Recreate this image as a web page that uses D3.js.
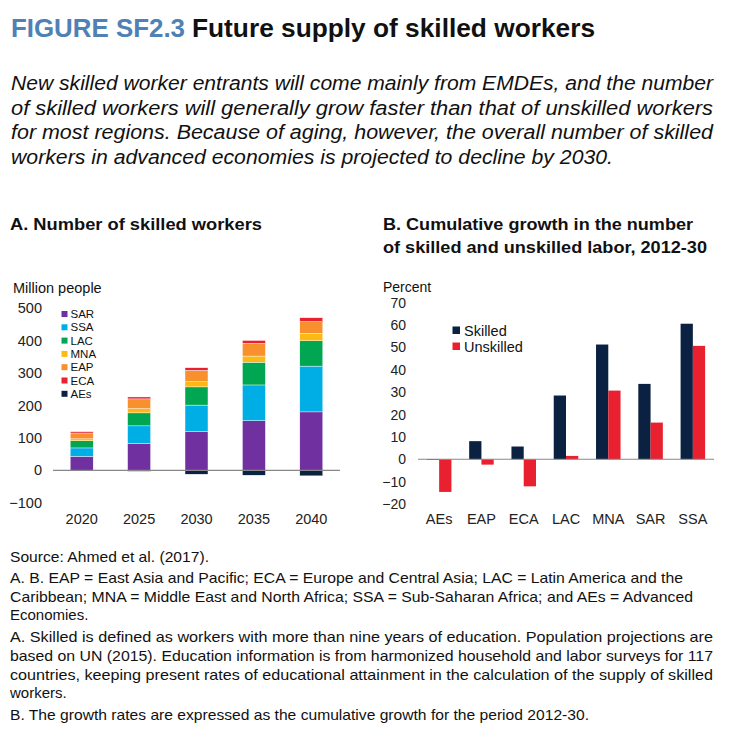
<!DOCTYPE html>
<html>
<head>
<meta charset="utf-8">
<script src="https://cdn.jsdelivr.net/npm/d3@7"></script>
<style>
  body { margin: 0; background: #fff; }
  text { font-family: "Liberation Sans", Arial, sans-serif; fill: #111; }
</style>
</head>
<body>
<div id="chart"></div>
<script>
// Panel A data: skilled workers, million people
var years = ["2020", "2025", "2030", "2035", "2040"];
var regionsA = ["SAR", "SSA", "LAC", "MNA", "EAP", "ECA", "AEs"];
var sar = [43, 83, 120, 153, 180];
var ssa = [26, 54, 81, 110, 141];
var lac = [22, 40, 56, 70, 78];
var mna = [6, 13, 16, 19, 23];
var eap = [18, 30, 35, 39, 36];
var eca = [4, 6, 8, 9, 12];
var aes = [-1, -3, -12, -15, -17];
var ticksA = [-100, 0, 100, 200, 300, 400, 500];

// Panel B data: cumulative growth 2012-30, percent
var categoriesB = ["AEs", "EAP", "ECA", "LAC", "MNA", "SAR", "SSA"];
var seriesB = ["Skilled", "Unskilled"];
var skilled = [-0.3, 8.1, 5.7, 28.5, 51.3, 33.7, 60.6];
var unskilled = [-14.6, -2.4, -12.1, 1.5, 30.7, 16.4, 50.7];
var ticksB = [-20, -10, 0, 10, 20, 30, 40, 50, 60, 70];

var colorsA = {
  SAR: "#7030a0", SSA: "#00aee6", LAC: "#00a651", MNA: "#fdb913",
  EAP: "#f7902d", ECA: "#e8202f", AEs: "#0b2142"
};
var colorsB = { Skilled: "#0b2142", Unskilled: "#e8202f" };

var svg = d3.select("#chart").append("svg")
  .attr("width", 750)
  .attr("height", 731);

// helper: place a line of text, squeezed to a width when one is given
function line(x, y, str, size, width, opts) {
  opts = opts || {};
  var t = svg.append("text")
    .attr("x", x).attr("y", y)
    .style("font-size", size + "px")
    .style("font-weight", opts.bold ? "bold" : "normal")
    .style("font-style", opts.italic ? "italic" : "normal")
    .text(str);
  if (opts.fill) t.style("fill", opts.fill);
  if (width) t.attr("textLength", width).attr("lengthAdjust", "spacingAndGlyphs");
  return t;
}

// title + lead text
line(11, 37, "FIGURE SF2.3", 26, 174, { bold: true, fill: "#4f81b5" });
line(192, 37, "Future supply of skilled workers", 26, 403, { bold: true });

line(11, 90, "New skilled worker entrants will come mainly from EMDEs, and the number", 19.5, 702, { italic: true });
line(11, 114.5, "of skilled workers will generally grow faster than that of unskilled workers", 19.5, 702, { italic: true });
line(11, 139, "for most regions. Because of aging, however, the overall number of skilled", 19.5, 702, { italic: true });
line(11, 163.5, "workers in advanced economies is projected to decline by 2030.", 19.5, 602, { italic: true });

line(10, 230, "A. Number of skilled workers", 16.5, 252, { bold: true });
line(383, 230, "B. Cumulative growth in the number", 16.5, 310, { bold: true });
line(383, 253, "of skilled and unskilled labor, 2012-30", 16.5, 324, { bold: true });

// footnotes
line(10, 562, "Source: Ahmed et al. (2017).", 15, 199);
line(10, 583, "A. B. EAP = East Asia and Pacific; ECA = Europe and Central Asia; LAC = Latin America and the", 15, 673);
line(10, 602, "Caribbean; MNA = Middle East and North Africa; SSA = Sub-Saharan Africa; and AEs = Advanced", 15, 683);
line(10, 620, "Economies.", 15);
line(10, 642, "A. Skilled is defined as workers with more than nine years of education. Population projections are", 15, 703);
line(10, 661, "based on UN (2015). Education information is from harmonized household and labor surveys for 117", 15, 703);
line(10, 680, "countries, keeping present rates of educational attainment in the calculation of the supply of skilled", 15, 703);
line(10, 698, "workers.", 15);
line(10, 720, "B. The growth rates are expressed as the cumulative growth for the period 2012-30.", 15, 579);

// ---------- Panel A: stacked bars ----------
var rowsA = years.map(function(y, i) {
  return { year: y, SAR: sar[i], SSA: ssa[i], LAC: lac[i], MNA: mna[i], EAP: eap[i], ECA: eca[i], AEs: aes[i] };
});

var xA = d3.scaleBand().domain(years).range([53, 340]).paddingInner(0.6).paddingOuter(0.3);
var yA = d3.scaleLinear().domain([-100, 500]).range([502.8, 308]);

var stack = d3.stack().keys(regionsA).offset(d3.stackOffsetDiverging);
var layers = stack(rowsA);

svg.append("g")
  .attr("transform", "translate(45,0)")
  .call(d3.axisLeft(yA).tickValues(ticksA).tickSize(0).tickPadding(3))
  .call(function(g) { g.select(".domain").remove(); })
  .selectAll("text").style("font-size", "14.5px").style("fill", "#222");

svg.append("text").attr("x", 13).attr("y", 293).style("font-size", "14.5px").text("Million people");

svg.append("g").selectAll("g")
  .data(layers)
  .enter().append("g")
  .attr("fill", function(d) { return colorsA[d.key]; })
  .selectAll("rect")
  .data(function(d) { return d; })
  .enter().append("rect")
  .attr("x", function(d) { return xA(d.data.year); })
  .attr("y", function(d) { return yA(Math.max(d[0], d[1])); })
  .attr("height", function(d) { return Math.abs(yA(d[0]) - yA(d[1])); })
  .attr("width", xA.bandwidth())
  .attr("stroke", "#fff")
  .attr("stroke-width", 0.4);

svg.append("line")
  .attr("x1", 53).attr("x2", 340)
  .attr("y1", yA(0)).attr("y2", yA(0))
  .attr("stroke", "#888").attr("stroke-width", 1.2);

svg.append("g")
  .attr("transform", "translate(0,511)")
  .call(d3.axisBottom(xA).tickSize(0).tickPadding(3))
  .call(function(g) { g.select(".domain").remove(); })
  .selectAll("text").style("font-size", "14.5px").style("fill", "#222");

// legend A
var legA = svg.append("g").selectAll("g")
  .data(regionsA)
  .enter().append("g")
  .attr("transform", function(d, i) { return "translate(61.5," + (314 + i * 13.3) + ")"; });
legA.append("rect").attr("x", 0).attr("y", -3).attr("width", 6).attr("height", 6)
  .attr("fill", function(d) { return colorsA[d]; });
legA.append("text").attr("x", 9).attr("dy", "0.36em").style("font-size", "11.5px").text(function(d) { return d; });

// ---------- Panel B: grouped bars ----------
var xB = d3.scaleBand().domain(categoriesB).range([418, 714]).paddingInner(0.42).paddingOuter(0.21);
var xB1 = d3.scaleBand().domain(seriesB).range([0, xB.bandwidth()]);
var yB = d3.scaleLinear().domain([-20, 70]).range([504, 302.7]);

svg.append("g")
  .attr("transform", "translate(409,0)")
  .call(d3.axisLeft(yB).tickValues(ticksB).tickSize(0).tickPadding(3))
  .call(function(g) { g.select(".domain").remove(); })
  .selectAll("text").style("font-size", "14px").style("fill", "#222");

svg.append("text").attr("x", 383).attr("y", 292).style("font-size", "14px").text("Percent");

var rowsB = categoriesB.map(function(c, i) {
  return { cat: c, Skilled: skilled[i], Unskilled: unskilled[i] };
});

svg.append("g").selectAll("g")
  .data(rowsB)
  .enter().append("g")
  .attr("transform", function(d) { return "translate(" + xB(d.cat) + ",0)"; })
  .selectAll("rect")
  .data(function(d) { return seriesB.map(function(k) { return { key: k, value: d[k] }; }); })
  .enter().append("rect")
  .attr("x", function(d) { return xB1(d.key); })
  .attr("y", function(d) { return yB(Math.max(0, d.value)); })
  .attr("height", function(d) { return Math.abs(yB(d.value) - yB(0)); })
  .attr("width", xB1.bandwidth())
  .attr("fill", function(d) { return colorsB[d.key]; });

svg.append("line")
  .attr("x1", 418).attr("x2", 714)
  .attr("y1", yB(0)).attr("y2", yB(0))
  .attr("stroke", "#888").attr("stroke-width", 1.2);

svg.append("g")
  .attr("transform", "translate(0,511)")
  .call(d3.axisBottom(xB).tickSize(0).tickPadding(3))
  .call(function(g) { g.select(".domain").remove(); })
  .selectAll("text").style("font-size", "14.5px").style("fill", "#222");

// legend B
var legB = svg.append("g").selectAll("g")
  .data(seriesB)
  .enter().append("g")
  .attr("transform", function(d, i) { return "translate(452.5," + (330.3 + i * 16) + ")"; });
legB.append("rect").attr("x", 0).attr("y", -3.8).attr("width", 7.5).attr("height", 7.5)
  .attr("fill", function(d) { return colorsB[d]; });
legB.append("text").attr("x", 11.5).attr("dy", "0.36em").style("font-size", "14.5px").text(function(d) { return d; });
</script>
</body>
</html>
